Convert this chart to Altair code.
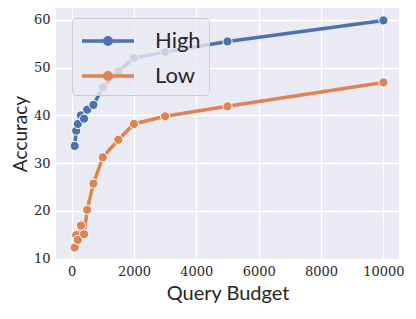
import altair as alt
import pandas as pd

budget = [100, 150, 200, 300, 400, 500, 700, 1000, 1500, 2000, 3000, 5000, 10000]
high = [33.6, 36.8, 38.2, 40.0, 39.3, 41.2, 42.2, 45.9, 49.2, 52.0, 53.3, 55.5, 59.9]
low = [12.3, 14.9, 13.9, 16.9, 15.1, 20.2, 25.7, 31.2, 34.9, 38.2, 39.8, 41.9, 46.9]
series = ["High", "Low"]
colors = ["#4C72B0", "#DD8452"]

df = pd.DataFrame(
    {"budget": budget * 2,
     "acc": high + low,
     "group": ["High"] * len(budget) + ["Low"] * len(budget)}
)

sym = "M-1,0L3,0M1.25,0A0.25,0.25,0,1,1,0.75,0A0.25,0.25,0,1,1,1.25,0Z"

legend = alt.Legend(
    title=None,
    orient="none",
    legendX=16,
    legendY=10,
    symbolType=sym,
    symbolSize=676,
    symbolStrokeWidth=3.5,
    symbolOpacity=1,
    labelFont="Lato",
    labelFontSize=22,
    labelColor="#262626",
    labelOffset=45,
    padding=8,
    rowPadding=9,
    fillColor="rgba(234,234,242,0.8)",
    strokeColor="#cccccc",
    cornerRadius=4,
)

color = alt.Color("group:N", scale=alt.Scale(domain=series, range=colors), legend=legend)

serif = "DejaVu Serif"

x = alt.X("budget:Q", title="Query Budget",
          scale=alt.Scale(domain=[-500, 10500], nice=False, zero=False),
          axis=alt.Axis(values=[0, 2000, 4000, 6000, 8000, 10000], format="d", labelFont=serif))
y = alt.Y("acc:Q", title="Accuracy",
          scale=alt.Scale(domain=[9.9, 62.5], nice=False, zero=False),
          axis=alt.Axis(values=[10, 20, 30, 40, 50, 60], labelFont=serif))

line = alt.Chart(df).mark_line(strokeWidth=3.5).encode(x=x, y=y, color=color)
pts = alt.Chart(df).mark_point(filled=True, size=85, stroke="white", strokeWidth=1, opacity=1).encode(
    x=x, y=y, color=color)

chart = alt.layer(line, pts).properties(
    width=343, height=251,
    autosize=alt.AutoSizeParams(type="none"),
    padding={"left": 48, "top": 0, "right": 9, "bottom": 52},
    background="white",
).configure_view(fill="#EAEAF2", stroke=None).configure_axis(
    grid=True, gridColor="white", gridWidth=1.3, domain=False, ticks=False,
    labelFontSize=13, labelColor="#262626", labelPadding=6,
    titleFont="Lato", titleFontSize=20, titleFontWeight="normal", titleColor="#262626",
).configure_axisX(titlePadding=5).configure_axisY(titlePadding=3, titleFontSize=19)

chart.save("out.html", embed_options={"renderer": "svg", "actions": False})
